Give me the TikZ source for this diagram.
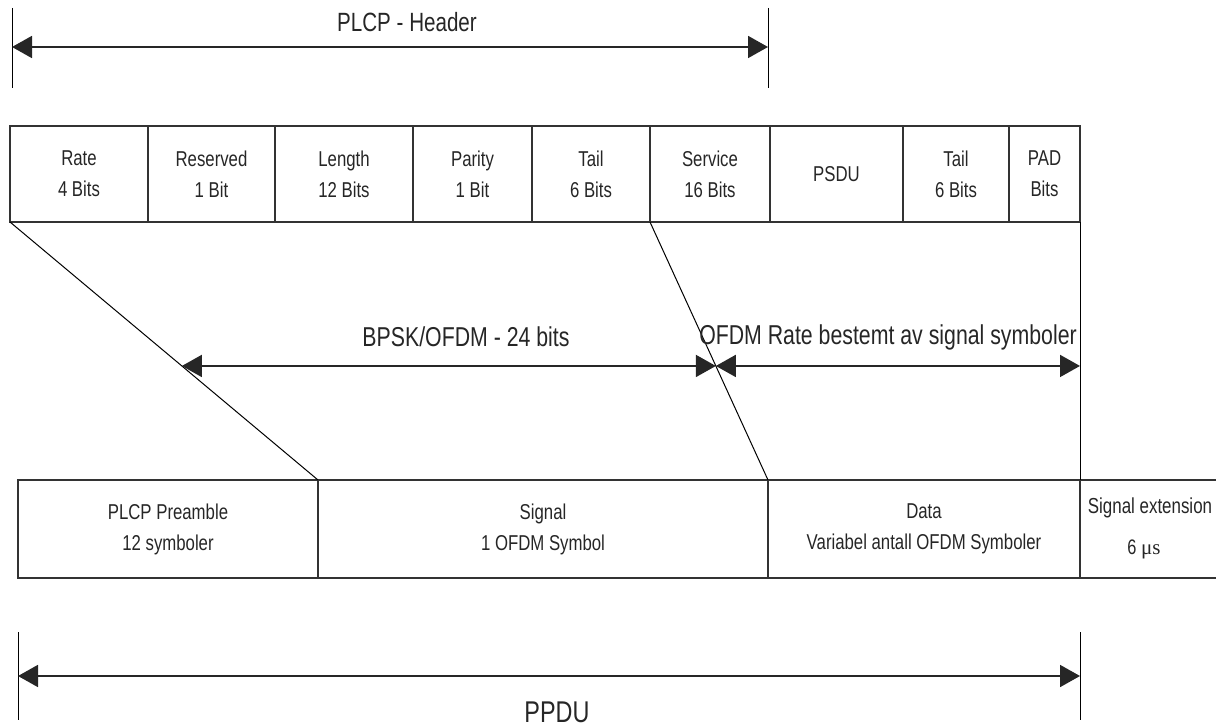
\documentclass[tikz,border=0pt]{standalone}
\usepackage{fontspec}
\setmainfont{Liberation Sans}[FakeStretch=0.78]
\newfontfamily\serifmu{Liberation Serif}
\usetikzlibrary{arrows.meta,calc}
\begin{document}
\begin{tikzpicture}[x=1pt,y=-1pt,
  fieldbox/.style={draw=black!80, line width=1.4pt, rectangle, inner sep=0pt, outer sep=0pt,
    align=center, font=\fontsize{21.5}{31}\selectfont, text=black!85},
  topbox/.style={fieldbox, minimum height=96pt},
  botbox/.style={fieldbox, minimum height=98pt},
  lbl/.style={inner sep=0pt, text=black!85},
  tick/.style={draw=black, line width=1pt},
  diag/.style={draw=black, line width=1pt},
  dim/.style={draw=black!85, line width=1.8pt, {Triangle[length=20pt,width=22pt]}-{Triangle[length=20pt,width=22pt]}}
]
\useasboundingbox (0,0) rectangle (1216,727);

% ---- PLCP header dimension
\coordinate (ht1) at (12,8);  \coordinate (hb1) at (12,88);
\coordinate (ht2) at (768,8); \coordinate (hb2) at (768,88);
\coordinate (ha1) at (12,47); \coordinate (ha2) at (768,47);
\draw[tick] (ht1) -- (hb1);
\draw[tick] (ht2) -- (hb2);
\draw[dim] (ha1) -- (ha2);
\node[lbl, font=\fontsize{26.4}{30}\selectfont] (hdr) at (407,22) {PLCP - Header};

% ---- top fields
\node[topbox, minimum width=138pt] (rate)  at (79,174)    {Rate\\4 Bits};
\node[topbox, minimum width=127pt] (res)   at (211.5,174) {Reserved\\1 Bit};
\node[topbox, minimum width=138pt] (len)   at (344,174)   {Length\\12 Bits};
\node[topbox, minimum width=119pt] (par)   at (472.5,174) {Parity\\1 Bit};
\node[topbox, minimum width=118pt] (tail)  at (591,174)   {Tail\\6 Bits};
\node[topbox, minimum width=120pt] (serv)  at (710,174)   {Service\\16 Bits};
\node[topbox, minimum width=133pt] (psdu)  at (836.5,174) {PSDU};
\node[topbox, minimum width=106pt] (tail2) at (956,174)   {Tail\\6 Bits};
\node[topbox, minimum width=71pt]  (pad)   at (1044.5,174){PAD\\Bits};

% ---- bottom fields
\node[botbox, minimum width=300pt] (pre)  at (168,529) {PLCP Preamble\\12 symboler};
\node[botbox, minimum width=450pt] (sig)  at (543,529) {Signal\\1 OFDM Symbol};
\node[botbox, minimum width=312pt] (data) at (924,529) {Data\\Variabel antall OFDM Symboler};
\coordinate (ext1) at (1216,480);
\coordinate (ext2) at (1216,578);
\draw[draw=black!80, line width=1.4pt] (data.north east) -- (ext1);
\draw[draw=black!80, line width=1.4pt] (data.south east) -- (ext2);
\node[lbl, font=\fontsize{21.7}{26}\selectfont] (extl) at (1150,508) {Signal extension};
\node[lbl, font=\fontsize{21}{26}\selectfont] (extv) at (1144,549) {6 {\serifmu μs}};

% ---- diagonals
\draw[diag] (rate.south west) -- (pre.north east);
\draw[diag] (serv.south west) -- (sig.north east);
\draw[diag] (pad.south east) -- (data.north east);

% ---- middle dimensions
\coordinate (m1) at ($(rate.south west)!0.558!(pre.north east)$);
\coordinate (m2) at ($(serv.south west)!0.558!(sig.north east)$);
\coordinate (m3) at ($(pad.south east)!0.558!(data.north east)$);
\draw[dim] (m1) -- (m2);
\draw[dim] (m2) -- (m3);
\node[lbl, font=\fontsize{27.3}{30}\selectfont] (bpsk) at (466,337) {BPSK/OFDM - 24 bits};
\node[lbl, font=\fontsize{27.3}{30}\selectfont] (ofdm) at (888,337) {OFDM Rate bestemt av signal symboler};

% ---- PPDU dimension
\coordinate (pt1) at (18,632);   \coordinate (pb1) at (18,720);
\coordinate (pt2) at (1080,632); \coordinate (pb2) at (1080,720);
\coordinate (pa1) at (18,676);   \coordinate (pa2) at (1080,676);
\draw[tick] (pt1) -- (pb1);
\draw[tick] (pt2) -- (pb2);
\draw[dim] (pa1) -- (pa2);
\node[lbl, font=\fontsize{30}{34}\selectfont] (ppdu) at (557,712) {PPDU};
\end{tikzpicture}
\end{document}
